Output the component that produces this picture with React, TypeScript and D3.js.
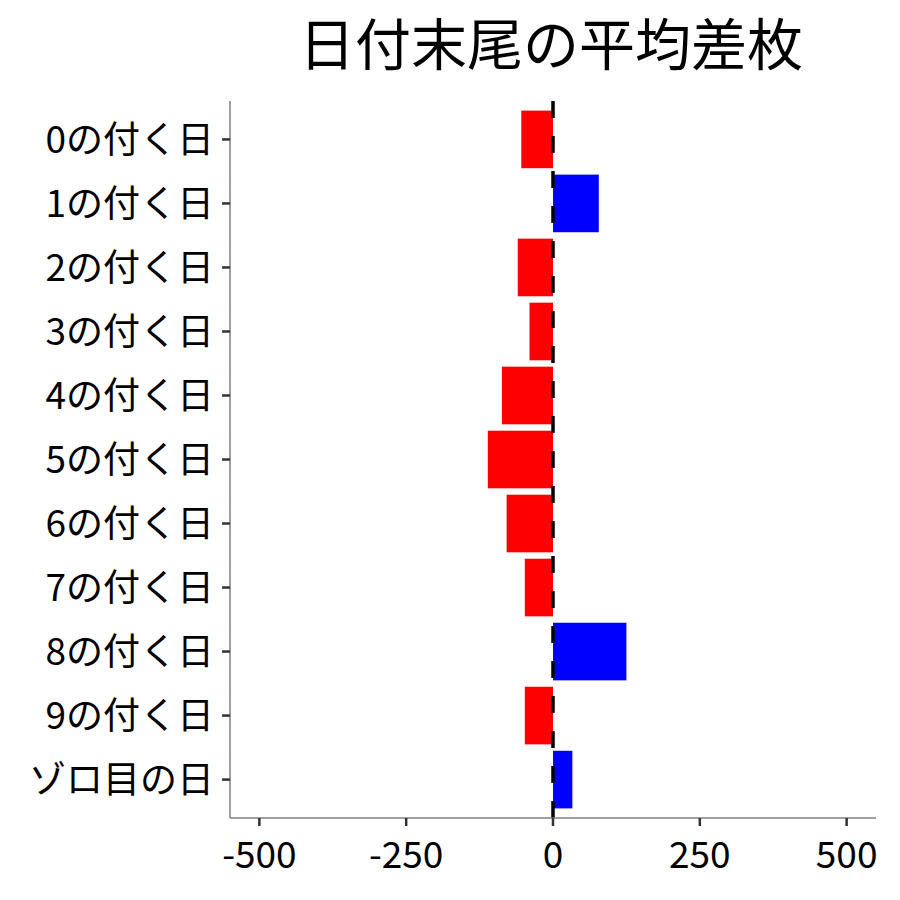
import { useEffect, useRef } from "react";
import * as d3 from "d3";

const categories = [
  "0の付く日",
  "1の付く日",
  "2の付く日",
  "3の付く日",
  "4の付く日",
  "5の付く日",
  "6の付く日",
  "7の付く日",
  "8の付く日",
  "9の付く日",
  "ゾロ目の日",
];
const avgDiff = [-54, 78, -60, -40, -87, -111, -79, -48, 125, -48, 33];
const xTicks = [-500, -250, 0, 250, 500];
const title = "日付末尾の平均差枚";

const FONT = "'Noto Sans CJK JP', 'Noto Sans', sans-serif";

export default function App() {
  const ref = useRef<SVGSVGElement | null>(null);

  useEffect(() => {
    if (!ref.current) return;
    const svg = d3.select(ref.current);
    svg.selectAll("*").remove();

    const left = 230;
    const right = 876;
    const top = 101;
    const bottom = 818;

    const x = d3.scaleLinear().domain([-550, 550]).range([left, right]);
    const y = d3
      .scaleBand<string>()
      .domain(categories)
      .range([top, bottom])
      .paddingInner(0.1)
      .paddingOuter(0.15);

    const data = categories.map((c, i) => ({ category: c, value: avgDiff[i] }));

    // bars
    svg
      .append("g")
      .selectAll("rect")
      .data(data)
      .enter()
      .append("rect")
      .attr("x", (d) => x(Math.min(0, d.value)))
      .attr("y", (d) => y(d.category) as number)
      .attr("width", (d) => Math.abs(x(d.value) - x(0)))
      .attr("height", y.bandwidth())
      .attr("fill", (d) => (d.value < 0 ? "#FF0000" : "#0000FF"));

    // zero reference line
    svg
      .append("line")
      .attr("x1", x(0))
      .attr("x2", x(0))
      .attr("y1", bottom)
      .attr("y2", top)
      .attr("stroke", "#000")
      .attr("stroke-width", 3.5)
      .attr("stroke-dasharray", "17 18");

    // axis lines
    svg
      .append("line")
      .attr("x1", left)
      .attr("x2", left)
      .attr("y1", top)
      .attr("y2", bottom)
      .attr("stroke", "#808080")
      .attr("stroke-width", 1.5);
    svg
      .append("line")
      .attr("x1", left)
      .attr("x2", right)
      .attr("y1", bottom)
      .attr("y2", bottom)
      .attr("stroke", "#808080")
      .attr("stroke-width", 1.5);

    // y ticks + labels
    const yg = svg.append("g");
    categories.forEach((c) => {
      const cy = (y(c) as number) + y.bandwidth() / 2;
      yg.append("line")
        .attr("x1", left - 8)
        .attr("x2", left)
        .attr("y1", cy)
        .attr("y2", cy)
        .attr("stroke", "#333")
        .attr("stroke-width", 2.5);
      yg.append("text")
        .attr("x", left - 16)
        .attr("y", cy)
        .attr("dy", "0.36em")
        .attr("text-anchor", "end")
        .attr("font-family", FONT)
        .attr("font-size", 37)
        .attr("fill", "#000")
        .text(c);
    });

    // x ticks + labels
    const xg = svg.append("g");
    xTicks.forEach((t) => {
      xg.append("line")
        .attr("x1", x(t))
        .attr("x2", x(t))
        .attr("y1", bottom)
        .attr("y2", bottom + 8)
        .attr("stroke", "#333")
        .attr("stroke-width", 2.5);
      xg.append("text")
        .attr("x", x(t))
        .attr("y", bottom + 37)
        .attr("dy", "0.36em")
        .attr("text-anchor", "middle")
        .attr("font-family", FONT)
        .attr("font-size", 37)
        .attr("fill", "#000")
        .text(String(t));
    });

    // title
    svg
      .append("text")
      .attr("x", 551)
      .attr("y", 65)
      .attr("text-anchor", "middle")
      .attr("font-family", FONT)
      .attr("font-size", 56)
      .attr("fill", "#000")
      .text(title);
  }, []);

  return (
    <svg
      ref={ref}
      width={900}
      height={900}
      style={{ position: "absolute", left: 0, top: 0, background: "#fff" }}
    />
  );
}
